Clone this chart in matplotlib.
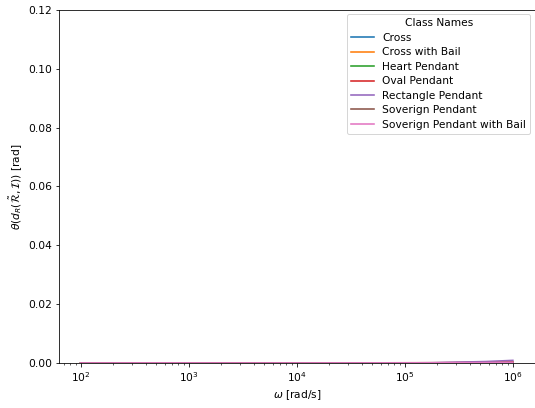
import matplotlib
matplotlib.use("Agg")
import matplotlib.pyplot as plt

# angular frequency grid [rad/s], quarter-decade steps from 1e2 to 1e6
omega = [1.0e2, 1.78e2, 3.16e2, 5.62e2, 1.0e3, 1.78e3, 3.16e3, 5.62e3,
         1.0e4, 1.78e4, 3.16e4, 5.62e4, 1.0e5, 1.78e5, 3.16e5, 5.62e5, 1.0e6]

class_names = ["Cross", "Cross with Bail", "Heart Pendant", "Oval Pendant",
               "Rectangle Pendant", "Soverign Pendant", "Soverign Pendant with Bail"]

# angle between reconstructed and reference operators [rad]
theta_cross = [0.0, 0.0, 0.0, 0.0, 0.0, 0.0, 0.0, 0.0,
               0.0, 0.0, 0.0, 0.00001, 0.00002, 0.00004, 0.00008, 0.00012, 0.0002]
theta_cross_bail = [0.0, 0.0, 0.0, 0.0, 0.0, 0.0, 0.0, 0.0,
                    0.0, 0.0, 0.0, 0.00001, 0.00002, 0.00005, 0.0001, 0.00015, 0.00025]
theta_heart = [0.0, 0.0, 0.0, 0.0, 0.0, 0.0, 0.0, 0.0,
               0.0, 0.0, 0.0, 0.00001, 0.00002, 0.00004, 0.00007, 0.0001, 0.00018]
theta_oval = [0.0, 0.0, 0.00001, 0.00001, 0.0, 0.0, 0.0, 0.0,
              0.00001, 0.00002, 0.00004, 0.00006, 0.00008, 0.0001, 0.00015, 0.0002, 0.0003]
theta_rectangle = [0.0, 0.0, 0.0, 0.0, 0.0, 0.0, 0.0, 0.0,
                   0.0, 0.0, 0.00001, 0.00002, 0.00004, 0.0001, 0.0003, 0.0005, 0.0009]
theta_soverign = [0.0, 0.0, 0.0, 0.0, 0.0, 0.0, 0.0, 0.0,
                  0.0, 0.0, 0.0, 0.00001, 0.00002, 0.00004, 0.00007, 0.0001, 0.0002]
theta_soverign_bail = [0.0, 0.0, 0.00001, 0.00002, 0.00001, 0.0, 0.0, 0.0,
                       0.0, 0.00001, 0.00002, 0.00003, 0.00004, 0.00006, 0.0001, 0.00015, 0.00025]

series = [theta_cross, theta_cross_bail, theta_heart, theta_oval,
          theta_rectangle, theta_soverign, theta_soverign_bail]

plt.rcParams["font.size"] = 10.6

W, H = 535, 408
dpi = 72
fig = plt.figure(figsize=(W / dpi, H / dpi), dpi=dpi)
ax = fig.add_axes([59 / W, (H - 363) / H, (534.5 - 59) / W, (363 - 10) / H])

for name, vals in zip(class_names, series):
    ax.plot(omega, vals, label=name, linewidth=1.6)

ax.set_xscale("log")
ax.set_ylim(0, 0.12)
ax.set_xlabel(r"$\omega$ [rad/s]")
ax.set_ylabel(r"$\theta(d_R(\tilde{\mathcal{R}}, \mathcal{I}))$ [rad]")
ax.legend(title="Class Names", loc="upper right", handlelength=2.1,
          borderaxespad=0.4, labelspacing=0.42)

fig.savefig("out.png", dpi=dpi)
